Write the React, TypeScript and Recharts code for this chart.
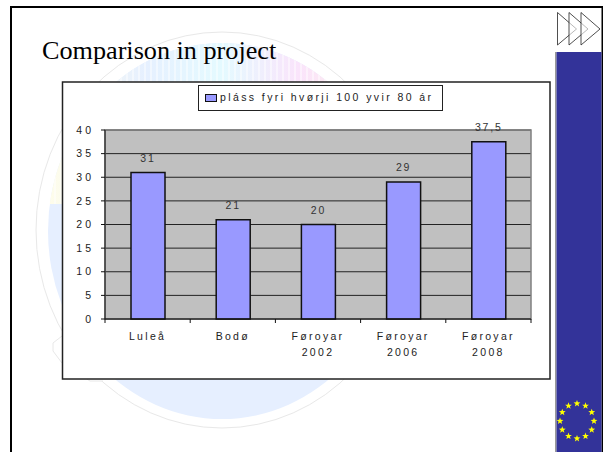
import {
  BarChart,
  Bar,
  XAxis,
  YAxis,
  CartesianGrid,
  LabelList,
  Legend,
  ReferenceArea,
} from "recharts";

const categories = ["Luleå", "Bodø", "Føroyar 2002", "Føroyar 2006", "Føroyar 2008"];
const values = [31, 21, 20, 29, 37.5];
const yTicks = [0, 5, 10, 15, 20, 25, 30, 35, 40];
const seriesName = "pláss fyri hvørji 100 yvir 80 ár";

const chartData = categories.map((name, i) => ({ name, value: values[i] }));

const BLUE = "#333399";
const BAR = "#9999ff";
const SANS = "'Liberation Sans', Arial, sans-serif";

// x axis: label wrapped on the space, tick marks sit between the categories
const CategoryTick = ({ x, y, payload, index }: any) => {
  const half = payload.offset ?? 42.6;
  const lines = String(payload.value).split(" ");
  return (
    <g>
      <line x1={x - half} x2={x - half} y1={y - 8} y2={y - 4} stroke="#111" />
      {index === categories.length - 1 && (
        <line x1={x + half} x2={x + half} y1={y - 8} y2={y - 4} stroke="#111" />
      )}
      {lines.map((line, i) => (
        <text
          key={line}
          x={x}
          y={y + 13 + i * 16}
          textAnchor="middle"
          fontSize={10.5}
          letterSpacing={2.3}
          fill="#222"
        >
          {line}
        </text>
      ))}
    </g>
  );
};

const LegendBox = ({ payload }: any) => (
  <div
    style={{
      boxSizing: "border-box",
      width: 245,
      height: 26,
      border: "1px solid #222",
      background: "#fff",
      display: "flex",
      alignItems: "center",
      paddingLeft: 6,
      paddingBottom: 3,
      fontSize: 10.5,
      letterSpacing: 2.4,
      color: "#222",
      whiteSpace: "nowrap",
    }}
  >
    <span
      style={{
        boxSizing: "border-box",
        width: 12,
        height: 8,
        marginTop: 3,
        marginRight: 3,
        background: BAR,
        border: "1px solid #111",
      }}
    />
    {payload?.[0]?.value}
  </div>
);

const SlideBackground = () => {
  const stars = Array.from({ length: 12 }, (_, i) => {
    const a = (i * Math.PI) / 6;
    return [577 + 17 * Math.sin(a), 421 - 17.5 * Math.cos(a)];
  });
  const starPath = Array.from({ length: 10 }, (_, i) => {
    const r = i % 2 ? 1.5 : 3.6;
    const a = (i * Math.PI) / 5;
    return `${(r * Math.sin(a)).toFixed(2)},${(-r * Math.cos(a)).toFixed(2)}`;
  }).join(" ");
  return (
    <svg width={603} height={452} style={{ position: "absolute", left: 0, top: 0 }}>
      <defs>
        <linearGradient id="rainbow" x1="0" x2="1" y1="0" y2="0">
          <stop offset="0" stopColor="#fffdea" />
          <stop offset="0.28" stopColor="#e6f0ff" />
          <stop offset="0.5" stopColor="#e4faff" />
          <stop offset="0.72" stopColor="#fae4fb" />
          <stop offset="1" stopColor="#fff2e0" />
        </linearGradient>
        <pattern id="stripes" width="6" height="10" patternUnits="userSpaceOnUse">
          <rect width="2" height="10" fill="#fff" opacity="0.45" />
        </pattern>
        <clipPath id="upper">
          <rect x="0" y="0" width="603" height="204" />
        </clipPath>
      </defs>
      <ellipse cx={222} cy={230} rx={186} ry={198} fill="#fff" stroke="#e8e8e8" />
      <path d="M62 336 L53 343 L53 351 L62 363 L90 381 L103 381" fill="#fff" stroke="#e8e8e8" />
      <ellipse cx={222} cy={231} rx={174} ry={188} fill="#e6efff" />
      <g clipPath="url(#upper)">
        <ellipse cx={222} cy={231} rx={174} ry={188} fill="url(#rainbow)" />
        <ellipse cx={222} cy={231} rx={174} ry={188} fill="url(#stripes)" />
      </g>

      <rect x={10} y={6} width={2} height={446} fill="#000" />
      <rect x={10} y={6} width={593} height={2} fill="#000" />
      <rect x={601.5} y={6} width={1.5} height={446} fill="#000" />

      <rect x={555} y={52} width={1.5} height={400} fill="#999" />
      <rect x={556.5} y={52} width={45} height={400} fill={BLUE} />
      {stars.map(([sx, sy], i) => (
        <polygon key={i} points={starPath} transform={`translate(${sx} ${sy})`} fill="#ffff00" />
      ))}

      {[557.5, 569, 581].map((ax) => (
        <polygon
          key={ax}
          points={`${ax},12.5 ${ax + 19},29 ${ax},45`}
          fill="#fff"
          fillOpacity={0.6}
          stroke="#222"
          strokeWidth={0.8}
        />
      ))}

      <rect x={62.5} y={82} width={487.5} height={297} fill="#fff" stroke="#222" strokeWidth={1.5} />
    </svg>
  );
};

export default function App() {
  return (
    <div
      style={{
        position: "absolute",
        left: 0,
        top: 0,
        width: 603,
        height: 452,
        overflow: "hidden",
        background: "#fff",
        fontFamily: SANS,
      }}
    >
      <SlideBackground />
      <div
        style={{
          position: "absolute",
          left: 42,
          top: 36,
          fontFamily: "'Liberation Serif', 'Times New Roman', serif",
          fontSize: 26.2,
          lineHeight: "30px",
          color: "#000",
          whiteSpace: "nowrap",
        }}
      >
        Comparison in project
      </div>
      <div style={{ position: "absolute", left: 0, top: 0 }}>
        <BarChart
          width={603}
          height={452}
          data={chartData}
          margin={{ top: 130, right: 72, bottom: 73, left: 60 }}
          barSize={34}
        >
          <CartesianGrid vertical={false} fill="#c0c0c0" stroke="#222" />
          <ReferenceArea y1={0} y2={40} fill="none" stroke="#808080" strokeWidth={1.5} />
          <XAxis
            dataKey="name"
            height={60}
            interval={0}
            tickLine={false}
            axisLine={{ stroke: "#111" }}
            tick={<CategoryTick />}
          />
          <YAxis
            width={45}
            domain={[0, 40]}
            ticks={yTicks}
            interval={0}
            tickSize={4}
            tickMargin={7}
            axisLine={{ stroke: "#111" }}
            tickLine={{ stroke: "#111" }}
            tick={{ fontSize: 10.5, fill: "#222", letterSpacing: 3 }}
          />
          <Legend
            layout="vertical"
            align="center"
            verticalAlign="middle"
            content={<LegendBox />}
            wrapperStyle={{ position: "absolute", left: 198, top: 85, width: 245, height: 26 }}
          />
          <Bar
            dataKey="value"
            name={seriesName}
            fill={BAR}
            stroke="#111"
            strokeWidth={1.5}
            isAnimationActive={false}
          >
            <LabelList
              dataKey="value"
              position="top"
              offset={11}
              fontSize={10.5}
              fill="#333"
              letterSpacing={1.8}
              formatter={(v: any) => String(v).replace(".", ",")}
            />
          </Bar>
        </BarChart>
      </div>
    </div>
  );
}
